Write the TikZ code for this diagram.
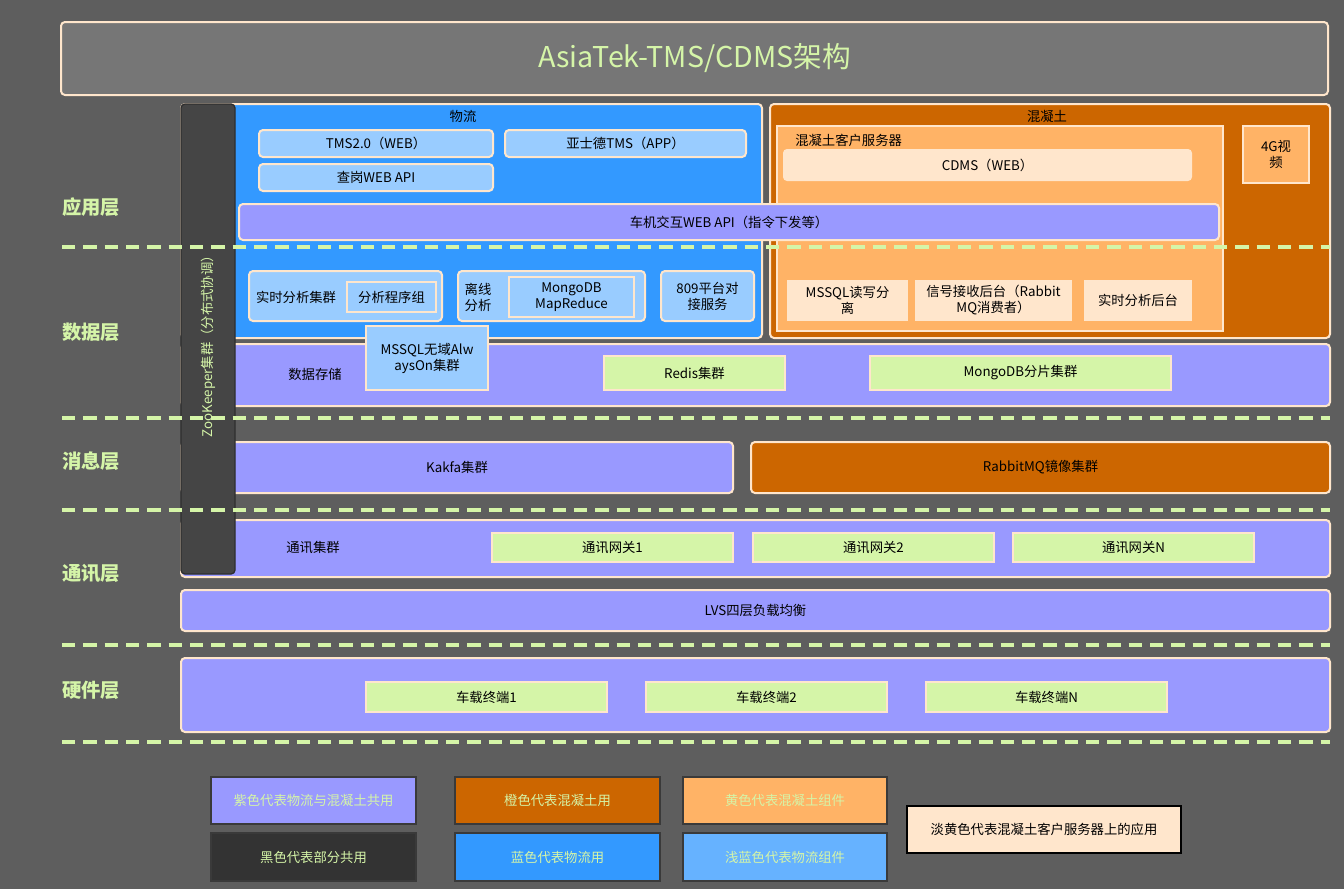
\documentclass[tikz,border=0pt]{standalone}
\usepackage{fontspec}
\setmainfont{Noto Sans CJK SC}
\definecolor{bgc}{HTML}{5E5E5E}
\definecolor{titlef}{HTML}{767676}
\definecolor{peach}{HTML}{FFE6CC}
\definecolor{lgreen}{HTML}{D5F5A8}
\definecolor{cblue}{HTML}{3399FF}
\definecolor{lblue}{HTML}{99CCFF}
\definecolor{cpurple}{HTML}{9999FF}
\definecolor{corange}{HTML}{CC6600}
\definecolor{lorange}{HTML}{FFB366}
\definecolor{cream}{HTML}{FFE6CC}
\definecolor{zkf}{HTML}{454545}
\definecolor{zkd}{HTML}{2E2E2E}
\definecolor{legblue}{HTML}{66B2FF}
\definecolor{legblack}{HTML}{333333}
\definecolor{legborder}{HTML}{3A3A3A}
\newcommand\bx[7]{%
  \pgfmathsetmacro\bw{(#5-#3)*0.75}%
  \pgfmathsetmacro\bh{(#6-#4)*0.75}%
  \node[#2, minimum width=\bw pt, minimum height=\bh pt, inner sep=0pt, outer sep=0pt, align=center] (#1) at ({(#3+#5)/2},{(#4+#6)/2}) {#7};}
\tikzset{
  base/.style={draw=peach, line width=1.5pt},
  rbox/.style={base, rounded corners=3pt},
  titlebox/.style={rbox, fill=titlef, text=lgreen, font=\fontsize{21.5}{26}\selectfont},
  bluebox/.style={rbox, fill=cblue},
  orangebox/.style={rbox, fill=corange},
  purplebox/.style={rbox, fill=cpurple},
  lbluebox/.style={rbox, fill=lblue},
  lbluesq/.style={base, fill=lblue},
  lorangesq/.style={base, fill=lorange},
  creambox/.style={fill=cream, rounded corners=3pt},
  creamsq/.style={fill=cream},
  greensq/.style={base, fill=lgreen},
  zkbox/.style={draw=zkd, line width=1pt, fill=zkf, rounded corners=3pt},
  layer/.style={text=lgreen, font=\fontsize{14.5}{17}\selectfont\bfseries},
  legbox/.style={draw=legborder, line width=1.5pt, text=lgreen},
  sep/.style={draw=lgreen, line width=2.6pt, dash pattern=on 10pt off 6pt},
  lbl/.style={inner sep=0pt, align=center}
}
\begin{document}
\begin{tikzpicture}[x=0.75pt,y=-0.75pt, font=\fontsize{10}{12}\selectfont]
\fill[bgc] (0,0) rectangle (1344,889);
\useasboundingbox (0,0) rectangle (1344,889);

% title
\bx{title}{titlebox}{61}{22}{1328}{95}{AsiaTek-TMS/CDMS架构}

% layer labels
\node[layer] (l1) at (91,207) {应用层};
\node[layer] (l2) at (91,332) {数据层};
\node[layer] (l3) at (91,461) {消息层};
\node[layer] (l4) at (91,573) {通讯层};
\node[layer] (l5) at (91,690) {硬件层};

% logistics (blue)
\bx{wl}{bluebox}{181}{104}{762}{338}{}
\node[lbl] (wlt) at (463,116) {物流};
\bx{tms}{lbluebox}{259}{130}{493}{157}{TMS2.0（WEB）}
\bx{app}{lbluebox}{505}{130}{746}{157}{亚士德TMS（APP）}
\bx{cg}{lbluebox}{259}{164}{493}{191}{查岗WEB API}
\bx{ssfx}{lbluebox}{249}{271}{442}{321}{}
\node[lbl] (ssfxt) at (296,297) {实时分析集群};
\bx{fxcx}{lbluesq}{347}{282}{436}{312}{分析程序组}
\bx{lx}{lbluebox}{458}{271}{645}{321}{}
\node[lbl] (lxt) at (478,297) {离线\\分析};
\bx{mr}{lbluesq}{509}{277}{634}{317}{MongoDB\\MapReduce}
\bx{p809}{lbluebox}{661}{271}{754}{321}{809平台对\\接服务}

% concrete (orange)
\bx{hnt}{orangebox}{770}{104}{1330}{338}{}
\node[lbl] (hntt) at (1047,116) {混凝土};
\bx{kh}{lorangesq}{777}{126}{1223}{331}{}
\node[lbl, anchor=west] (kht) at (795,140) {混凝土客户服务器};
\bx{cdms}{creambox}{783}{149}{1192}{181}{CDMS（WEB）}
\bx{g4}{lorangesq}{1243}{126}{1309}{183}{4G视\\频}
\bx{mssqlrw}{creamsq}{787}{280}{908}{321}{MSSQL读写分\\离}
\bx{xh}{creamsq}{915}{280}{1072}{321}{信号接收后台（Rabbit\\MQ消费者）}
\bx{ssht}{creamsq}{1084}{280}{1192}{321}{实时分析后台}

% vehicle web api
\bx{cj}{purplebox}{239}{204}{1219}{240}{车机交互WEB API（指令下发等）}

% data storage
\bx{sjcc}{purplebox}{181}{344}{1330}{406}{}
\node[lbl] (sjcct) at (315,374) {数据存储};
\bx{redis}{greensq}{604}{356}{785}{390}{Redis集群}
\bx{mongo}{greensq}{870}{356}{1171}{390}{MongoDB分片集群}
\bx{mssqlao}{lbluesq}{366}{326}{488}{390}{MSSQL无域Alw\\aysOn集群}

% message layer
\bx{kafka}{purplebox}{181}{442}{733}{493}{Kakfa集群}
\bx{rabbit}{orangebox}{751}{442}{1330}{493}{RabbitMQ镜像集群}

% communication layer
\bx{tx}{purplebox}{181}{520}{1330}{577}{}
\node[lbl] (txt) at (313,548) {通讯集群};
\bx{gw1}{greensq}{492}{533}{733}{562}{通讯网关1}
\bx{gw2}{greensq}{753}{533}{994}{562}{通讯网关2}
\bx{gwn}{greensq}{1013}{533}{1254}{562}{通讯网关N}
\bx{lvs}{purplebox}{181}{590}{1330}{631}{LVS四层负载均衡}

% hardware layer
\bx{hw}{purplebox}{181}{658}{1330}{732}{}
\bx{t1}{greensq}{366}{682}{607}{712}{车载终端1}
\bx{t2}{greensq}{646}{682}{887}{712}{车载终端2}
\bx{tn}{greensq}{926}{682}{1167}{712}{车载终端N}

% zookeeper
\bx{zk}{zkbox}{181}{104}{235}{574}{}
\node[lbl, rotate=90, text=lgreen] (zkt) at (208,343) {ZooKeeper集群（分布式协调）};

% separators
\coordinate (s1a) at (62,247); \coordinate (s1b) at (1330,247);
\coordinate (s2a) at (62,418); \coordinate (s2b) at (1330,418);
\coordinate (s3a) at (62,510); \coordinate (s3b) at (1330,510);
\coordinate (s4a) at (62,645); \coordinate (s4b) at (1330,645);
\coordinate (s5a) at (62,742); \coordinate (s5b) at (1330,742);
\draw[sep] (s1a) -- (s1b);
\draw[sep] (s2a) -- (s2b);
\draw[sep] (s3a) -- (s3b);
\draw[sep] (s4a) -- (s4b);
\draw[sep] (s5a) -- (s5b);

% legend
\bx{lg1}{legbox, fill=cpurple}{211}{777}{416}{824}{紫色代表物流与混凝土共用}
\bx{lg2}{legbox, fill=corange}{455}{777}{660}{824}{橙色代表混凝土用}
\bx{lg3}{legbox, fill=lorange}{683}{777}{887}{824}{黄色代表混凝土组件}
\bx{lg4}{legbox, fill=legblack}{211}{833}{416}{881}{黑色代表部分共用}
\bx{lg5}{legbox, fill=cblue}{455}{833}{660}{881}{蓝色代表物流用}
\bx{lg6}{legbox, fill=legblue}{683}{833}{887}{881}{浅蓝色代表物流组件}
\bx{lg7}{draw=black, line width=1.5pt, fill=cream}{907}{806}{1181}{853}{淡黄色代表混凝土客户服务器上的应用}
\end{tikzpicture}
\end{document}
